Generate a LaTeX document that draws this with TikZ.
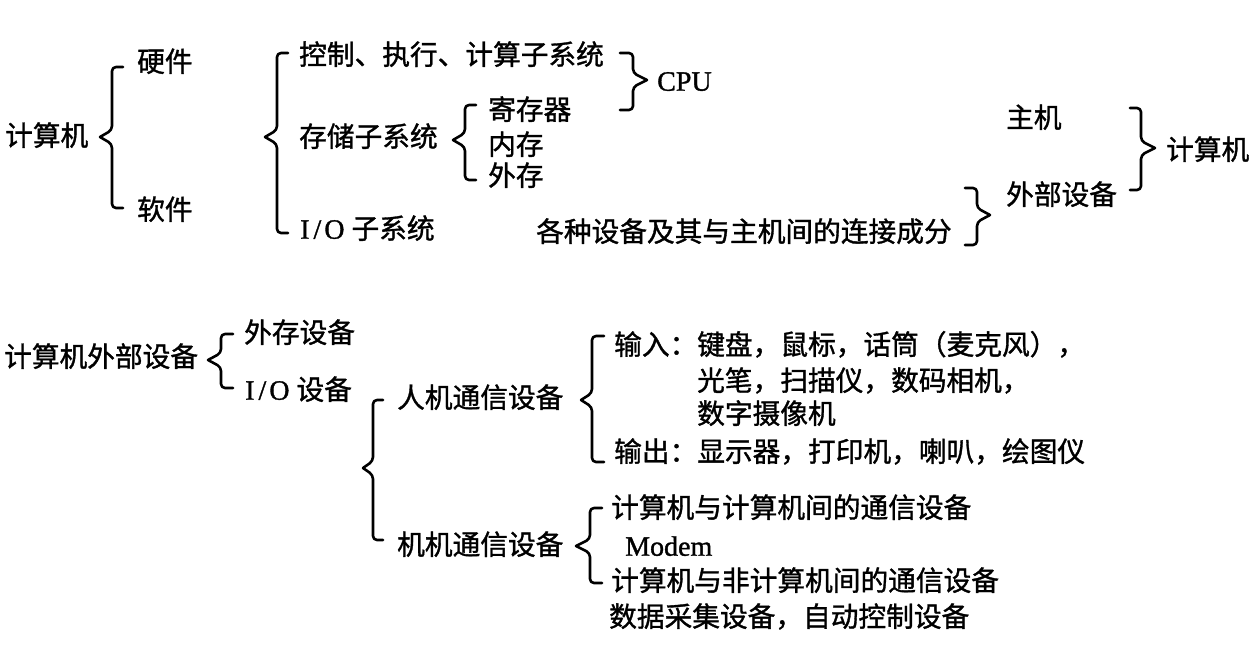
\documentclass[tikz,border=0pt]{standalone}
\usepackage{fontspec}
\setmainfont{Noto Sans CJK SC}[RawFeature={embolden=1.2}]
\newfontfamily\lat{Liberation Serif}[RawFeature={embolden=1.2}]
\newcommand{\leftbrc}[6]{% tipx, vertx, hookx, top, tipy, bot
  \draw[brc] (#3,#4) -- (#2,#4) -- (#2,#5-7) -- (#1,#5);
  \draw[brc] (#1,#5) -- (#2,#5+7) -- (#2,#6) -- (#3,#6);}
\newcommand{\rightbrc}[6]{% tipx, vertx, hookx, top, tipy, bot
  \draw[brc] (#3,#4) -- (#2,#4) -- (#2,#5-7) -- (#1,#5);
  \draw[brc] (#1,#5) -- (#2,#5+7) -- (#2,#6) -- (#3,#6);}
\newcommand{\IO}{{\lat\fontsize{28}{30}\selectfont I\kern4pt/\kern3pt O}\kern7pt}
\tikzset{
  brc/.style={line width=2.6pt, rounded corners=4pt, line cap=round, line join=round},
  txt/.style={anchor=west, inner sep=0pt, yshift=-6pt, font=\fontsize{27.7}{30}\selectfont, text height=0.82em, text depth=0.08em},
  ltxt/.style={txt, font=\fontsize{28}{30}\selectfont\lat},
}
\begin{document}
\begin{tikzpicture}[x=1pt,y=-1pt]
\useasboundingbox (0,0) rectangle (1249,645);
% ---------- top section ----------
\node[txt] (comp) at (5,136) {计算机};
\node[txt] (hw) at (137,62) {硬件};
\node[txt] (sw) at (137,210) {软件};
\node[txt] (ctrl) at (299,55) {控制、执行、计算子系统};
\node[txt] (stor) at (299,137) {存储子系统};
\node[txt] (io) at (300,229) {\IO 子系统};
\node[ltxt] (cpu) at (657,81) {CPU};
\node[txt] (reg) at (488,110) {寄存器};
\node[txt] (mem) at (488,145) {内存};
\node[txt] (ext) at (488,176) {外存};
\node[txt] (conn) at (536,232) {各种设备及其与主机间的连接成分};
\node[txt] (host) at (1006,118) {主机};
\node[txt] (periph) at (1006,195) {外部设备};
\node[txt] (comp2) at (1166,150) {计算机};
\leftbrc{100}{112}{123}{67}{137}{208}
\leftbrc{265}{277}{288}{53}{137}{233}
\rightbrc{647}{633}{620}{53}{80}{110}
\leftbrc{453}{465}{476}{105}{140}{180}
\rightbrc{990}{977}{965}{188}{215}{245}
\rightbrc{1155}{1141}{1130}{108}{148}{190}
% ---------- bottom section ----------
\node[txt] (cper) at (4,357) {计算机外部设备};
\node[txt] (extdev) at (244,333) {外存设备};
\node[txt] (iodev) at (245,390) {\IO 设备};
\node[txt] (hm) at (397,398) {人机通信设备};
\node[txt] (mm) at (397,545) {机机通信设备};
\node[txt] (in1) at (614,345) {输入：键盘，鼠标，话筒（麦克风），};
\node[txt] (in2) at (697,381) {光笔，扫描仪，数码相机，};
\node[txt] (in3) at (697,414) {数字摄像机};
\node[txt] (out) at (614,452) {输出：显示器，打印机，喇叭，绘图仪};
\node[txt] (cc) at (611,508) {计算机与计算机间的通信设备};
\node[ltxt] (modem) at (625,546) {Modem};
\node[txt] (cn) at (611,581) {计算机与非计算机间的通信设备};
\node[txt] (daq) at (609,617) {数据采集设备，自动控制设备};
\leftbrc{208}{221}{233}{334}{360}{388}
\leftbrc{363}{373}{383}{400}{468}{540}
\leftbrc{581}{592}{604}{336}{400}{462}
\leftbrc{576}{590}{602}{508}{546}{583}
\end{tikzpicture}
\end{document}
